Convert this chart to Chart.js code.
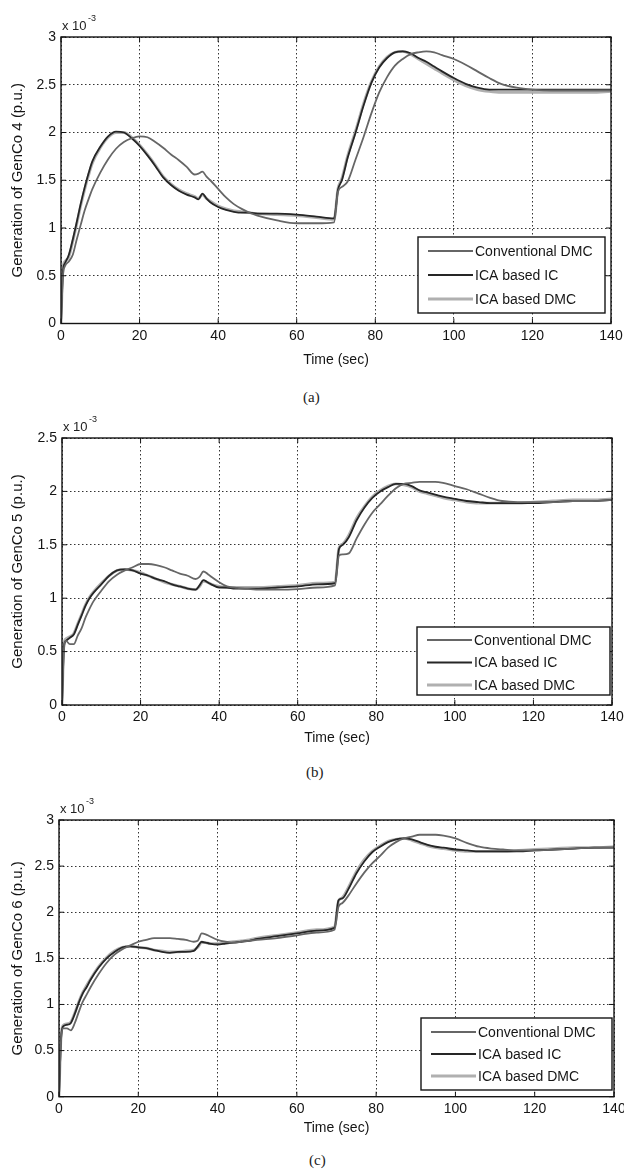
<!DOCTYPE html>
<html>
<head>
<meta charset="utf-8">
<script src="https://cdn.jsdelivr.net/npm/chart.js@4.4.1/dist/chart.umd.min.js"></script>
<style>
  body { margin: 0; background: #fff; width: 624px; height: 1173px; position: relative; overflow: hidden; }
  canvas { position: absolute; left: 0; }
  .cap { position: absolute; font-family: "Liberation Serif", "DejaVu Serif", serif; font-size: 15px; color: #222; line-height: 18px; }
</style>
</head>
<body>
<canvas id="chartA" width="624" height="372" style="top:0px"></canvas>
<div class="cap" style="top:388px;left:303px">(a)</div>
<canvas id="chartB" width="624" height="360" style="top:395px"></canvas>
<div class="cap" style="top:763px;left:306px">(b)</div>
<canvas id="chartC" width="624" height="365" style="top:780px"></canvas>
<div class="cap" style="top:1151px;left:309px">(c)</div>

<script>
// time axis (sec), shared by all three GenCo plots
const timeSec = [
  0, 0.5, 1, 2, 3, 4, 5, 6, 7, 8,
  10, 12, 14, 16, 18, 20, 22, 24, 26, 28,
  30, 32, 34, 35, 36, 37, 38, 40, 42, 44,
  46, 48, 50, 55, 60, 65, 69.5, 70.5, 71.5, 73,
  75, 77, 79, 81, 83, 85, 87, 89, 91, 93,
  95, 97, 100, 103, 106, 109, 112, 116, 120, 125,
  130, 135, 140
];
const timeTicks = [0, 20, 40, 60, 80, 100, 120, 140];
const seriesNames = ['Conventional DMC', 'ICA based IC', 'ICA based DMC'];

// GenCo 4 generation, x 10^-3 p.u.
const genco4Conv = [
  0, 0.50, 0.60, 0.65, 0.72, 0.88, 1.03, 1.18, 1.30, 1.41,
  1.58, 1.72, 1.83, 1.90, 1.94, 1.96, 1.95, 1.90, 1.84, 1.77,
  1.71, 1.64, 1.56, 1.57, 1.59, 1.54, 1.50, 1.41, 1.32, 1.25,
  1.20, 1.16, 1.13, 1.08, 1.05, 1.05, 1.06, 1.38, 1.43, 1.49,
  1.72, 1.95, 2.20, 2.42, 2.58, 2.70, 2.77, 2.82, 2.84, 2.85,
  2.84, 2.81, 2.77, 2.71, 2.64, 2.57, 2.51, 2.47, 2.45, 2.44,
  2.44, 2.44, 2.44
];
const genco4IC = [
  0, 0.55, 0.63, 0.72, 0.88, 1.06, 1.25, 1.42, 1.57, 1.70,
  1.85, 1.96, 2.01, 2.00, 1.94, 1.86, 1.76, 1.65, 1.53, 1.45,
  1.39, 1.35, 1.32, 1.30, 1.36, 1.31, 1.27, 1.22, 1.19, 1.17,
  1.16, 1.16, 1.15, 1.15, 1.14, 1.12, 1.10, 1.40, 1.50, 1.74,
  2.00, 2.28, 2.52, 2.68, 2.78, 2.84, 2.85, 2.83, 2.78, 2.74,
  2.69, 2.64, 2.57, 2.51, 2.47, 2.45, 2.45, 2.45, 2.45, 2.45,
  2.45, 2.45, 2.45
];
const genco4DMC = [
  0, 0.58, 0.65, 0.70, 0.86, 1.04, 1.23, 1.40, 1.55, 1.68,
  1.84, 1.95, 2.00, 2.00, 1.95, 1.87, 1.77, 1.66, 1.54, 1.46,
  1.40, 1.36, 1.33, 1.31, 1.35, 1.31, 1.28, 1.23, 1.20, 1.18,
  1.17, 1.16, 1.15, 1.14, 1.13, 1.11, 1.09, 1.41, 1.52, 1.76,
  2.02, 2.30, 2.53, 2.69, 2.79, 2.84, 2.85, 2.82, 2.77, 2.72,
  2.67, 2.62, 2.55, 2.49, 2.45, 2.43, 2.42, 2.42, 2.42, 2.42,
  2.42, 2.42, 2.43
];

// GenCo 5 generation, x 10^-3 p.u.
const genco5Conv = [
  0, 0.52, 0.60, 0.57, 0.57, 0.65, 0.72, 0.82, 0.90, 0.97,
  1.07, 1.16, 1.22, 1.26, 1.29, 1.32, 1.32, 1.31, 1.29, 1.26,
  1.23, 1.21, 1.18, 1.20, 1.25, 1.23, 1.20, 1.15, 1.11, 1.10,
  1.09, 1.085, 1.08, 1.08, 1.085, 1.10, 1.12, 1.40, 1.41, 1.42,
  1.56, 1.69, 1.80, 1.88, 1.96, 2.03, 2.07, 2.08, 2.09, 2.09,
  2.09, 2.08, 2.05, 2.02, 1.98, 1.94, 1.91, 1.90, 1.90, 1.90,
  1.91, 1.91, 1.92
];
const genco5IC = [
  0, 0.55, 0.60, 0.63, 0.66, 0.75, 0.84, 0.93, 1.00, 1.05,
  1.13, 1.21, 1.26, 1.27, 1.26, 1.23, 1.21, 1.18, 1.16, 1.13,
  1.11, 1.09, 1.08, 1.12, 1.17, 1.15, 1.13, 1.10, 1.10, 1.09,
  1.09, 1.09, 1.09, 1.10, 1.11, 1.13, 1.14, 1.46, 1.50, 1.57,
  1.73, 1.85, 1.94, 2.00, 2.04, 2.07, 2.07, 2.05, 2.01, 1.99,
  1.97, 1.95, 1.93, 1.91, 1.90, 1.89, 1.89, 1.89, 1.89, 1.90,
  1.91, 1.91, 1.92
];
const genco5DMC = [
  0, 0.57, 0.62, 0.64, 0.67, 0.76, 0.85, 0.94, 1.01, 1.06,
  1.14, 1.21, 1.26, 1.27, 1.26, 1.24, 1.21, 1.18, 1.15, 1.13,
  1.11, 1.09, 1.08, 1.11, 1.16, 1.15, 1.13, 1.11, 1.10, 1.10,
  1.10, 1.10, 1.10, 1.11, 1.12, 1.14, 1.15, 1.47, 1.51, 1.59,
  1.75, 1.86, 1.95, 2.01, 2.05, 2.07, 2.06, 2.04, 2.00, 1.98,
  1.96, 1.94, 1.92, 1.90, 1.89, 1.89, 1.89, 1.89, 1.90, 1.91,
  1.92, 1.92, 1.93
];

// GenCo 6 generation, x 10^-3 p.u.
const genco6Conv = [
  0, 0.60, 0.74, 0.74, 0.72, 0.80, 0.92, 1.03, 1.11, 1.19,
  1.33, 1.45, 1.54, 1.60, 1.64, 1.68, 1.70, 1.72, 1.72, 1.72,
  1.71, 1.70, 1.68, 1.69, 1.77, 1.76, 1.74, 1.70, 1.68, 1.67,
  1.68, 1.69, 1.70, 1.72, 1.75, 1.78, 1.81, 2.06, 2.10, 2.18,
  2.31, 2.43, 2.53, 2.61, 2.70, 2.76, 2.80, 2.82, 2.84, 2.84,
  2.84, 2.83, 2.80, 2.75, 2.71, 2.69, 2.68, 2.67, 2.67, 2.68,
  2.69, 2.70, 2.70
];
const genco6IC = [
  0, 0.62, 0.76, 0.78, 0.80, 0.90, 1.02, 1.12, 1.19, 1.27,
  1.40, 1.50, 1.57, 1.62, 1.63, 1.62, 1.61, 1.59, 1.57, 1.56,
  1.57, 1.57, 1.58, 1.63, 1.68, 1.67, 1.66, 1.65, 1.66, 1.67,
  1.68, 1.69, 1.71, 1.74, 1.77, 1.80, 1.83, 2.13, 2.15, 2.25,
  2.42, 2.55, 2.65, 2.71, 2.76, 2.79, 2.80, 2.79, 2.76, 2.73,
  2.71, 2.70, 2.68, 2.67, 2.66, 2.66, 2.66, 2.66, 2.67, 2.68,
  2.69, 2.70, 2.70
];
const genco6DMC = [
  0, 0.64, 0.77, 0.79, 0.81, 0.91, 1.03, 1.13, 1.21, 1.28,
  1.41, 1.51, 1.58, 1.62, 1.63, 1.62, 1.61, 1.59, 1.58, 1.57,
  1.57, 1.58, 1.59, 1.62, 1.67, 1.67, 1.66, 1.66, 1.67, 1.68,
  1.69, 1.70, 1.72, 1.75, 1.78, 1.81, 1.84, 2.12, 2.16, 2.27,
  2.44, 2.57, 2.66, 2.72, 2.77, 2.79, 2.80, 2.78, 2.75, 2.72,
  2.70, 2.69, 2.67, 2.66, 2.66, 2.66, 2.66, 2.67, 2.68, 2.69,
  2.70, 2.70, 2.71
];

const ticks3 = [0, 0.5, 1, 1.5, 2, 2.5, 3];
const ticks25 = [0, 0.5, 1, 1.5, 2, 2.5];

const FONT = '"Liberation Sans", Arial, sans-serif';

// matlab-ish axes box, inward ticks, exponent label and boxed legend
const axesBox = {
  id: 'axesBox',
  afterDatasetsDraw(chart, args, opts) {
    const { ctx, chartArea: a } = chart;
    const xs = chart.scales.x, ys = chart.scales.y;
    ctx.save();
    ctx.strokeStyle = '#141414';
    ctx.lineWidth = 1.4;
    ctx.strokeRect(a.left, a.top, a.width, a.height);

    ctx.lineWidth = 1;
    ctx.beginPath();
    timeTicks.forEach(t => {
      const px = xs.getPixelForValue(t);
      ctx.moveTo(px, a.bottom); ctx.lineTo(px, a.bottom - 5);
      ctx.moveTo(px, a.top); ctx.lineTo(px, a.top + 5);
    });
    opts.yTicks.forEach(v => {
      const py = ys.getPixelForValue(v);
      ctx.moveTo(a.left, py); ctx.lineTo(a.left + 5, py);
      ctx.moveTo(a.right, py); ctx.lineTo(a.right - 5, py);
    });
    ctx.stroke();

    // x 10^-3 multiplier
    ctx.fillStyle = '#222';
    ctx.textAlign = 'left';
    ctx.textBaseline = 'alphabetic';
    ctx.font = '13px ' + FONT;
    ctx.fillText('x 10', a.left + 1, a.top - 7);
    ctx.font = '9px ' + FONT;
    ctx.fillText('-3', a.left + 27, a.top - 16);

    // legend
    const lb = opts.legend;
    ctx.fillStyle = '#fff';
    ctx.fillRect(lb.x, lb.y, lb.w, lb.h);
    ctx.strokeStyle = '#141414';
    ctx.lineWidth = 1.4;
    ctx.strokeRect(lb.x, lb.y, lb.w, lb.h);
    ctx.font = '14px ' + FONT;
    ctx.textBaseline = 'middle';
    chart.data.datasets.forEach((ds, i) => {
      const y = lb.y + lb.first + i * lb.row;
      ctx.strokeStyle = ds.borderColor;
      ctx.lineWidth = ds.borderWidth;
      ctx.beginPath();
      ctx.moveTo(lb.x + 10, y);
      ctx.lineTo(lb.x + 55, y);
      ctx.stroke();
      ctx.fillStyle = '#161616';
      ctx.fillText(ds.label, lb.x + 57, y + 1);
    });
    ctx.restore();
  }
};

function makePanel(id, cfg) {
  const pts = vals => timeSec.map((t, i) => ({ x: t, y: vals[i] }));
  return new Chart(document.getElementById(id), {
    type: 'line',
    data: {
      datasets: [
        { label: seriesNames[0], data: pts(cfg.conv), borderColor: '#666666', borderWidth: 1.8 },
        { label: seriesNames[1], data: pts(cfg.ic), borderColor: '#262626', borderWidth: 1.8 },
        { label: seriesNames[2], data: pts(cfg.dmc), borderColor: '#b0b0b0', borderWidth: 2.8 }
      ]
    },
    options: {
      responsive: false,
      animation: false,
      events: [],
      elements: {
        point: { radius: 0 },
        line: { cubicInterpolationMode: 'monotone', fill: false }
      },
      layout: { padding: { top: cfg.top, right: cfg.right, left: 0, bottom: 0 } },
      plugins: {
        legend: { display: false },
        tooltip: { enabled: false },
        axesBox: { yTicks: cfg.yTicks, legend: cfg.legend }
      },
      scales: {
        x: {
          type: 'linear',
          min: 0,
          max: 140,
          afterBuildTicks: s => { s.ticks = timeTicks.map(v => ({ value: v })); },
          afterFit: s => { s.height = cfg.xHeight; s.paddingLeft = 0; s.paddingRight = 0; },
          grid: { color: '#333333', lineWidth: 1, drawTicks: false },
          border: { display: false, dash: [1.5, 2.5] },
          ticks: { padding: 4, color: '#141414', font: { family: FONT, size: 14 } },
          title: {
            display: true, text: 'Time (sec)', color: '#141414',
            font: { family: FONT, size: 14 }, padding: { top: 0, bottom: cfg.xTitlePad }
          }
        },
        y: {
          type: 'linear',
          min: 0,
          max: cfg.yMax,
          afterBuildTicks: s => { s.ticks = cfg.yTicks.map(v => ({ value: v })); },
          afterFit: s => { s.width = cfg.left; },
          grid: { color: '#333333', lineWidth: 1, drawTicks: false },
          border: { display: false, dash: [1.5, 2.5] },
          ticks: { padding: 5, color: '#141414', font: { family: FONT, size: 14 }, callback: v => String(v) },
          title: {
            display: true, text: cfg.yTitle, color: '#141414',
            font: { family: FONT, size: 15 }, padding: { top: 9, bottom: 0 }
          }
        }
      }
    },
    plugins: [axesBox]
  });
}

makePanel('chartA', {
  conv: genco4Conv, ic: genco4IC, dmc: genco4DMC,
  yMax: 3, yTicks: ticks3, yTitle: 'Generation of GenCo 4 (p.u.)',
  top: 37, right: 13, left: 61, xHeight: 48.5, xTitlePad: 3.6,
  legend: { x: 418, y: 237, w: 187, h: 76, first: 14, row: 24 }
});

makePanel('chartB', {
  conv: genco5Conv, ic: genco5IC, dmc: genco5DMC,
  yMax: 2.5, yTicks: ticks25, yTitle: 'Generation of GenCo 5 (p.u.)',
  top: 43, right: 12, left: 62, xHeight: 50, xTitlePad: 8.6,
  legend: { x: 417, y: 232, w: 193, h: 68, first: 13, row: 22.5 }
});

makePanel('chartC', {
  conv: genco6Conv, ic: genco6IC, dmc: genco6DMC,
  yMax: 3, yTicks: ticks3, yTitle: 'Generation of GenCo 6 (p.u.)',
  top: 40, right: 10, left: 59, xHeight: 48.3, xTitlePad: 8.6,
  legend: { x: 421, y: 238, w: 191, h: 72, first: 14, row: 22 }
});
</script>
</body>
</html>
